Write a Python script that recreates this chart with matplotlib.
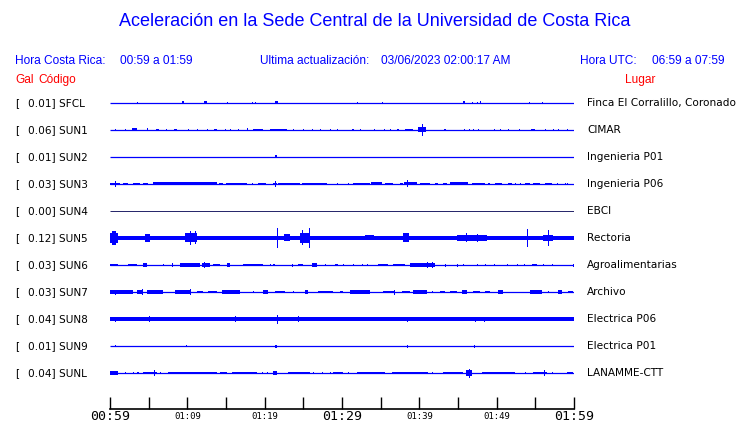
""" Acceleration traces, Sede Central UCR
"""

import matplotlib
import matplotlib.pyplot as plt

matplotlib.use("Agg")

# station data
gal = ["0.01", "0.06", "0.01", "0.03", "0.00", "0.12", "0.03", "0.03", "0.04",
       "0.01", "0.04"]
codes = ["SFCL", "SUN1", "SUN2", "SUN3", "SUN4", "SUN5", "SUN6", "SUN7",
         "SUN8", "SUN9", "SUNL"]
places = ["Finca El Corralillo, Coronado", "CIMAR", "Ingenieria P01",
          "Ingenieria P06", "EBCI", "Rectoria", "Agroalimentarias", "Archivo",
          "Electrica P06", "Electrica P01", "LANAMME-CTT"]

# background noise half-amplitude (px) per station
noise = [0, 0, 0, 0, 0, 1.8, 0, 0, 1.7, 0, 0]

# bursts per station: (start minute, end minute, half amplitude in px)
bursts = [
    [(3.5, 3.5, 1), (9.3, 9.6, 1.5), (12.2, 12.5, 1.5), (15.1, 15.1, 0.5),
     (18.3, 18.3, 1), (18.8, 18.8, 1), (21.4, 21.7, 1.5), (31.9, 31.9, 1),
     (35.2, 35.2, 0.7), (45.7, 45.9, 1.5), (46.8, 46.8, 1), (47.4, 47.4, 1),
     (47.9, 48.0, 1.5), (54.2, 54.2, 0.7), (55.9, 55.9, 0.7)],
    [(0.6, 0.6, 1), (1.9, 1.9, 1), (2.9, 3.5, 1.5), (4.8, 4.8, 1.5),
     (6.0, 6.3, 1.3), (7.2, 7.2, 1), (8.3, 8.6, 1.3), (10.1, 10.1, 1),
     (11.3, 11.3, 1), (12.5, 12.5, 1), (13.5, 13.8, 1.3), (14.9, 15.0, 1),
     (15.5, 15.5, 1), (16.6, 16.6, 1), (17.7, 17.7, 1.5), (18.5, 19.8, 1.2),
     (20.7, 22.9, 1.2), (23.7, 23.7, 1), (25.0, 25.0, 1), (26.1, 26.1, 1),
     (27.2, 27.2, 1), (28.4, 28.4, 1), (29.4, 29.4, 1), (31.3, 31.6, 1.3),
     (32.3, 32.3, 1), (34.1, 34.1, 0.8), (35.4, 35.4, 1), (36.2, 36.2, 1),
     (37.1, 37.4, 1.3), (38.1, 39.2, 1.2), (39.8, 40.8, 2.5),
     (40.3, 40.3, 6), (43.2, 43.4, 1), (45.8, 45.8, 1), (46.4, 46.4, 1),
     (47.0, 47.0, 1), (47.6, 47.6, 1), (49.7, 49.7, 1), (50.4, 50.4, 1),
     (51.5, 51.5, 1), (52.9, 52.9, 1), (54.5, 55.0, 1.3), (56.3, 56.3, 1),
     (57.3, 57.3, 1), (57.9, 57.9, 1), (59.1, 59.1, 1)],
    [(21.4, 21.6, 1.5)],
    [(0.0, 1.3, 1.3), (0.6, 0.6, 3), (1.7, 2.3, 1.0), (3.0, 3.9, 1.0),
     (4.3, 4.9, 1.0), (5.6, 13.9, 1.5), (14.1, 14.6, 1.0), (15.0, 17.7, 1.3),
     (18.3, 18.4, 1), (19.1, 20.2, 1.0), (21.1, 21.6, 1.3), (21.3, 21.3, 3),
     (21.7, 24.6, 1.3), (24.8, 28.0, 1.3), (29.4, 29.4, 1), (30.8, 30.8, 1),
     (31.4, 33.6, 1.0), (33.8, 35.2, 1.5), (35.6, 36.6, 1.3),
     (37.5, 37.9, 1.0), (38.0, 39.7, 1.5), (38.4, 38.4, 3.5),
     (40.1, 41.4, 1.3), (42.0, 42.4, 1.0), (43.1, 43.6, 1.0),
     (44.0, 46.3, 1.5), (46.8, 48.5, 1.3), (48.9, 49.1, 1), (49.8, 50.7, 1.0),
     (51.5, 52.0, 1), (52.4, 52.4, 1), (53.0, 53.0, 1), (53.7, 54.3, 1.0),
     (54.7, 55.6, 1.3), (56.3, 57.2, 1.3), (57.8, 57.8, 1), (58.8, 58.8, 1),
     (59.1, 59.1, 1)],
    [],
    [(0.0, 1.0, 5), (0.3, 0.8, 7), (4.5, 5.2, 4), (9.7, 11.2, 4.5),
     (10.4, 10.4, 7), (11.0, 11.0, 6.5), (21.6, 21.6, 10), (22.5, 23.3, 3.5),
     (24.6, 25.9, 5), (25.7, 25.7, 10), (24.8, 24.8, 7.5), (33.0, 34.1, 2.5),
     (37.9, 38.6, 4.5), (44.9, 48.8, 3.0), (46.0, 46.0, 4.5), (47.5, 47.5, 4),
     (53.9, 53.9, 9), (56.0, 57.3, 3.0), (56.6, 56.6, 8), (2.0, 2.5, 2.3),
     (7.0, 8.0, 2.3), (13.0, 14.0, 2.3), (16.0, 17.0, 2.3), (19.0, 20.0, 2.3),
     (28.0, 30.0, 2.3), (31.0, 32.0, 2.3), (36.0, 37.0, 2.3),
     (40.0, 41.0, 2.3), (42.0, 43.0, 2.3), (50.0, 52.0, 2.3),
     (58.0, 60.0, 2.3)],
    [(0.0, 1.0, 1.3), (2.3, 3.5, 1.2), (4.3, 4.8, 1.8), (6.9, 6.9, 1.2),
     (8.0, 8.0, 2), (9.1, 11.6, 1.7), (11.9, 12.9, 1.6), (12.2, 12.2, 3),
     (13.3, 14.2, 1.3), (15.1, 15.5, 1.8), (17.2, 19.8, 1.3), (20.7, 20.7, 1.2),
     (21.1, 21.3, 1.3), (23.5, 23.5, 1.5), (24.3, 25.0, 1.3),
     (26.1, 26.8, 1.6), (27.8, 27.8, 1.2), (29.1, 29.5, 1.3),
     (30.1, 30.1, 1.2), (31.4, 31.4, 1.2), (32.6, 32.6, 1.2),
     (33.2, 33.2, 1.2), (34.6, 35.9, 1.3), (36.6, 38.1, 1.3),
     (38.8, 42.0, 1.6), (41.0, 41.0, 3), (41.7, 41.7, 3), (43.3, 43.3, 1.5),
     (44.9, 44.9, 1.5), (45.6, 45.6, 1.2), (47.5, 47.5, 1.2),
     (48.5, 48.5, 1.2), (49.7, 49.7, 1.2), (51.4, 51.4, 1.2),
     (52.6, 52.6, 1.2), (53.5, 53.5, 1.2), (54.6, 55.2, 1.3),
     (56.0, 56.0, 1.2), (57.1, 57.1, 1.2), (59.9, 59.9, 1.5)],
    [(0.0, 3.0, 1.6), (0.7, 0.7, 2.5), (3.5, 4.3, 1.8), (4.1, 4.1, 3),
     (4.8, 6.9, 1.6), (8.4, 10.3, 1.6), (10.4, 10.4, 3), (11.2, 12.0, 1.3),
     (12.7, 13.8, 1.3), (14.5, 16.8, 1.6), (18.5, 18.5, 1.2),
     (19.8, 20.4, 1.6), (21.3, 22.6, 1.3), (23.6, 23.6, 1.2),
     (25.2, 25.6, 1.6), (26.9, 28.8, 1.3), (29.8, 30.1, 1.2),
     (31.0, 33.6, 1.6), (35.3, 36.9, 1.3), (36.7, 36.7, 2.5),
     (37.8, 38.8, 1.3), (39.2, 41.0, 1.6), (41.6, 41.6, 1.2),
     (42.7, 43.3, 1.3), (44.0, 44.9, 1.3), (45.5, 46.2, 1.6),
     (46.9, 47.8, 1.3), (48.5, 49.2, 1.2), (50.2, 50.8, 2.0),
     (54.3, 55.9, 1.6), (56.6, 56.6, 1.2), (57.9, 58.4, 1.6),
     (59.2, 59.9, 1.3)],
    [(0.6, 0.6, 2.5), (5.0, 5.0, 3), (10.1, 10.1, 2.2), (11.4, 11.4, 2.2),
     (16.2, 16.2, 2.8), (21.6, 21.6, 4.5), (24.3, 24.3, 3), (38.4, 38.4, 2.5),
     (47.2, 47.2, 2.5), (48.4, 48.4, 2.5)],
    [(0.6, 0.6, 0.8), (9.8, 9.8, 1), (21.3, 21.6, 1.5), (38.4, 38.4, 1.5),
     (47.1, 47.1, 1.5)],
    [(0.0, 1.0, 1.8), (1.9, 1.9, 1), (3.0, 3.0, 1), (3.5, 3.7, 1.3),
     (4.3, 6.1, 1.3), (5.7, 5.7, 3), (6.5, 6.5, 1), (7.5, 13.8, 1.3),
     (14.2, 15.1, 1.3), (15.8, 19.0, 1.3), (19.7, 19.7, 1), (20.3, 20.4, 1),
     (21.1, 21.6, 2.2), (23.0, 25.9, 1.3), (26.3, 26.3, 1), (27.4, 27.4, 1),
     (28.4, 28.4, 1), (28.8, 30.1, 1.3), (30.8, 30.8, 1), (31.9, 33.6, 1.3),
     (33.6, 35.6, 1.3), (36.5, 41.1, 1.3), (41.6, 41.6, 1), (43.0, 45.6, 1.3),
     (46.0, 46.8, 2.8), (46.4, 46.4, 4.5), (48.1, 52.4, 1.3), (53.7, 53.7, 1),
     (54.7, 56.5, 1.3), (56.1, 56.1, 3), (57.2, 57.2, 1), (59.1, 59.9, 1.3)],
]

tick_minutes = list(range(0, 61, 5))
tick_labels = ["00:59", "", "01:09", "", "01:19", "", "01:29", "", "01:39",
               "", "01:49", "", "01:59"]

# figure geometry (pixels)
W, H, dpi = 740, 423, 100
row_px = 27
blue = "#0000ff"
fig = plt.figure(figsize=(W / dpi, H / dpi), dpi=dpi)
ax = fig.add_axes([110 / W, 1 - 409 / H, 464 / W, 319 / H])
ax.set_xlim(0, 60)
ax.set_ylim((409 - 103) / row_px, -13 / row_px)


def px(v):
    """pixel amplitude to row units"""
    return v / row_px


for i, code in enumerate(codes):
    color = "#000050" if code == "SUN4" else blue
    ax.hlines(i, 0, 60, color=color, lw=0.9 if code != "SUN4" else 0.6)
    if noise[i]:
        ax.bar(0, 2 * px(noise[i]), width=60, bottom=i - px(noise[i]),
               align="edge", color=blue, lw=0)
    for t0, t1, h in bursts[i]:
        ax.bar(t0, 2 * px(h), width=max(t1 - t0, 0.13), bottom=i - px(h),
               align="edge", color=blue, lw=0)

# axis
for s in ["top", "left", "right"]:
    ax.spines[s].set_visible(False)
ax.spines["bottom"].set_linewidth(1.2)
ax.set_yticks([])
ax.set_xticks(tick_minutes)
ax.set_xticklabels(tick_labels, family="DejaVu Sans Mono")
ax.tick_params(axis="x", direction="in", length=9, width=1, pad=1)
for lab in ax.get_xticklabels():
    big = lab.get_text() in ("00:59", "01:29", "01:59")
    lab.set_fontsize(9.5 if big else 6.5)
    if not big:
        lab.set_y(-0.005)

# station labels
for i in range(len(codes)):
    y = 1 - (103 + i * row_px) / H
    fig.text(15 / W, y, "[", fontsize=7.6, va="center")
    fig.text(28 / W, y, gal[i] + "] " + codes[i], fontsize=7.6, va="center")
    fig.text(587 / W, y, places[i], fontsize=7.6, va="center")

# header
hf = "Liberation Sans"
fig.text(375 / W, 1 - 22 / H,
         "Aceleración en la Sede Central de la Universidad de Costa Rica",
         fontsize=13, color=blue, ha="center", va="center", family=hf)
hy = 1 - 61 / H
fs = 8.6
fig.text(15 / W, hy, "Hora Costa Rica:", fontsize=fs, color=blue,
         va="center", family=hf)
fig.text(120 / W, hy, "00:59 a 01:59", fontsize=fs, color=blue,
         va="center", family=hf)
fig.text(260 / W, hy, "Ultima actualización:", fontsize=fs, color=blue,
         va="center", family=hf)
fig.text(381 / W, hy, "03/06/2023 02:00:17 AM", fontsize=fs, color=blue,
         va="center", family=hf)
fig.text(580 / W, hy, "Hora UTC:", fontsize=fs, color=blue, va="center",
         family=hf)
fig.text(725 / W, hy, "06:59 a 07:59", fontsize=fs, color=blue,
         va="center", ha="right", family=hf)
ry = 1 - 80 / H
fig.text(15 / W, ry, "Gal", fontsize=fs, color="red", va="center", family=hf)
fig.text(38 / W, ry, "Código", fontsize=fs, color="red", va="center",
         family=hf)
fig.text(625 / W, ry, "Lugar", fontsize=fs, color="red", va="center",
         family=hf)

fig.savefig("out.png", dpi=dpi)
plt.close(fig)
